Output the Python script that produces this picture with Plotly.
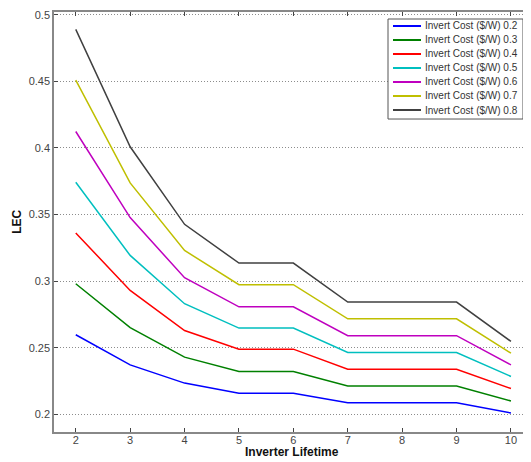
import plotly.graph_objects as go

lifetime = [2, 3, 4, 5, 6, 7, 8, 9, 10]
cost_labels = ["0.2", "0.3", "0.4", "0.5", "0.6", "0.7", "0.8"]
lec_02 = [0.2597, 0.2371, 0.2234, 0.2158, 0.2158, 0.2086, 0.2086, 0.2086, 0.2010]
lec_03 = [0.2980, 0.2650, 0.2429, 0.2321, 0.2321, 0.2213, 0.2213, 0.2213, 0.2100]
lec_04 = [0.3361, 0.2930, 0.2629, 0.2489, 0.2489, 0.2338, 0.2338, 0.2338, 0.2193]
lec_05 = [0.3742, 0.3193, 0.2830, 0.2647, 0.2647, 0.2464, 0.2464, 0.2464, 0.2284]
lec_06 = [0.4123, 0.3477, 0.3025, 0.2807, 0.2807, 0.2590, 0.2590, 0.2590, 0.2371]
lec_07 = [0.4509, 0.3737, 0.3230, 0.2973, 0.2973, 0.2717, 0.2717, 0.2717, 0.2459]
lec_08 = [0.4890, 0.4008, 0.3426, 0.3135, 0.3135, 0.2842, 0.2842, 0.2842, 0.2547]
series = [lec_02, lec_03, lec_04, lec_05, lec_06, lec_07, lec_08]
colors = ["#0000ff", "#008000", "#ff0000", "#00bfbf", "#bf00bf", "#bfbf00", "#404040"]
y_ticks = [0.2, 0.25, 0.3, 0.35, 0.4, 0.45, 0.5]
y_tick_text = ["0.2", "0.25", "0.3", "0.35", "0.4", "0.45", "0.5"]

fig = go.Figure()
for lab, ys, c in zip(cost_labels, series, colors):
    fig.add_trace(go.Scatter(x=lifetime, y=ys, mode="lines",
                             name=f"Invert Cost ($/W) {lab}",
                             line=dict(color=c, width=1.5)))

# Legend drawn as a compact boxed key (paper coordinates)
shapes = [dict(type="rect", xref="paper", yref="paper", x0=0.7017, x1=0.9853,
               y0=0.7452, y1=0.9833, line=dict(color="#555555", width=1),
               fillcolor="white", layer="above")]
annotations = []
for i, (lab, c) in enumerate(zip(cost_labels, colors)):
    yy = 1 - (14 + 14 * i) / 420
    shapes.append(dict(type="line", xref="paper", yref="paper", x0=0.7122, x1=0.771,
                       y0=yy, y1=yy, line=dict(color=c, width=2), layer="above"))
    annotations.append(dict(text=f"Invert Cost ($/W) {lab}", xref="paper", yref="paper",
                            x=0.7752, y=yy, xanchor="left", yanchor="middle",
                            showarrow=False,
                            font=dict(family="Liberation Sans, Arial", size=10,
                                      color="#333333")))

annotations += [
    dict(text="<b>Inverter Lifetime</b>", xref="paper", yref="paper",
         x=0.5, y=-0.048, xanchor="center", yanchor="middle", showarrow=False,
         font=dict(family="Liberation Sans, Arial", size=12, color="#111111")),
    dict(text="<b>LEC</b>", xref="paper", yref="paper", textangle=-90,
         x=-0.078, y=0.5, xanchor="center", yanchor="middle", showarrow=False,
         font=dict(family="Liberation Sans, Arial", size=12, color="#111111")),
]

axis_font = dict(family="Liberation Sans, Arial", size=11, color="#444444")
fig.update_layout(
    width=523, height=454,
    margin=dict(l=46, r=1, t=4, b=30, autoexpand=False),
    plot_bgcolor="white", paper_bgcolor="white",
    font=axis_font,
    showlegend=False,
    xaxis=dict(range=[1.6, 10.35], tickvals=lifetime, ticks="inside", ticklen=4,
               tickcolor="#444444", showgrid=False, zeroline=False, automargin=False,
               ticklabelstandoff=-3,
               showline=True, linecolor="#888888", linewidth=1.5, mirror="ticks"),
    yaxis=dict(range=[0.1867, 0.502], tickvals=y_ticks, ticktext=y_tick_text,
               ticks="inside", ticklen=4, tickcolor="#444444", automargin=False,
               showgrid=True, gridcolor="#8c8c8c", griddash="1px,2px", gridwidth=1,
               zeroline=False, showline=True, linecolor="#888888", linewidth=1.5, mirror="ticks"),
    shapes=shapes,
    annotations=annotations,
)
fig.write_html("out.html")
